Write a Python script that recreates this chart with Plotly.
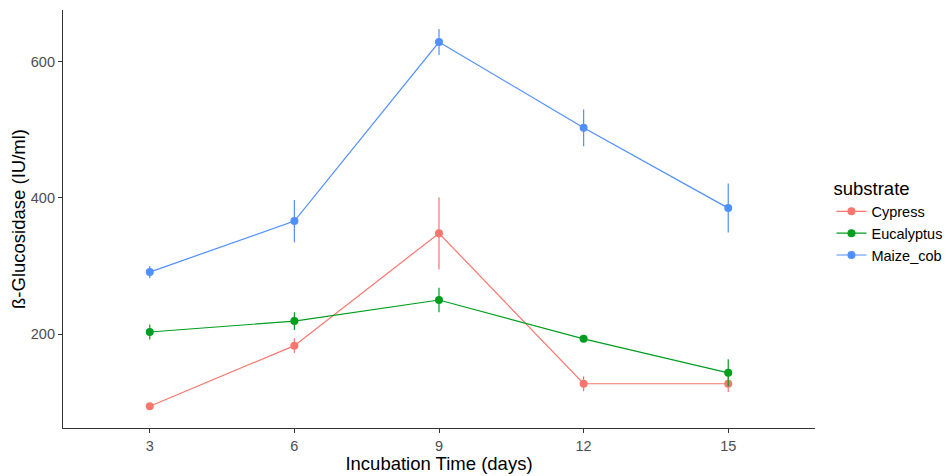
import plotly.graph_objects as go

days = [3, 6, 9, 12, 15]
substrates = ["Cypress", "Eucalyptus", "Maize_cob"]
cypress = [94, 183, 348, 127, 127]
cypress_err = [3, 11, 53, 11, 12]
eucalyptus = [203, 219, 250, 193, 143]
eucalyptus_err = [11, 13, 18, 3, 20]
maize = [291, 366, 629, 503, 385]
maize_err = [9, 31, 19, 27, 36]
colors = ["#F8766D", "#009E1E", "#4F8FFF"]

fig = go.Figure()
for name, vals, errs, col in zip(substrates, [cypress, eucalyptus, maize],
                                 [cypress_err, eucalyptus_err, maize_err], colors):
    fig.add_trace(go.Scatter(
        x=days, y=vals, name=name, mode="lines+markers",
        line=dict(color=col, width=1.2),
        marker=dict(color=col, size=8),
        error_y=dict(type="data", array=errs, visible=True, color=col, thickness=1.2, width=0),
    ))

fig.update_layout(
    width=947, height=476,
    margin=dict(l=63, r=132, t=10, b=48),
    paper_bgcolor="white", plot_bgcolor="white",
    font=dict(family="Liberation Sans, Arial, sans-serif", color="black"),
    legend=dict(title=dict(text="substrate", font=dict(size=18.5, color="black")),
                font=dict(size=14.5, color="black"),
                xref="container", yref="container", x=0.878, y=0.535,
                xanchor="left", yanchor="middle",
                tracegroupgap=0, itemwidth=30),
    xaxis=dict(range=[1.2, 16.8], tickvals=days, ticktext=[str(d) for d in days],
               showgrid=False, zeroline=False, showline=True, linecolor="#333333", linewidth=1.2,
               ticks="outside", ticklen=4, tickcolor="#333333", automargin=False,
               tickfont=dict(size=14.5, color="#4D4D4D"),
               title=dict(text="Incubation Time (days)", font=dict(size=18.5, color="black"), standoff=2)),
    yaxis=dict(range=[62, 676], tickvals=[200, 400, 600],
               showgrid=False, zeroline=False, showline=True, linecolor="#333333", linewidth=1.2,
               ticks="outside", ticklen=4, tickcolor="#333333", automargin=False,
               tickfont=dict(size=14.5, color="#4D4D4D"),
               title=dict(text="ß-Glucosidase (IU/ml)", font=dict(size=18.5, color="black"), standoff=0)),
)

fig.write_html("out.html", config={"displayModeBar": False},
               post_script="document.body.style.margin='0px';")
